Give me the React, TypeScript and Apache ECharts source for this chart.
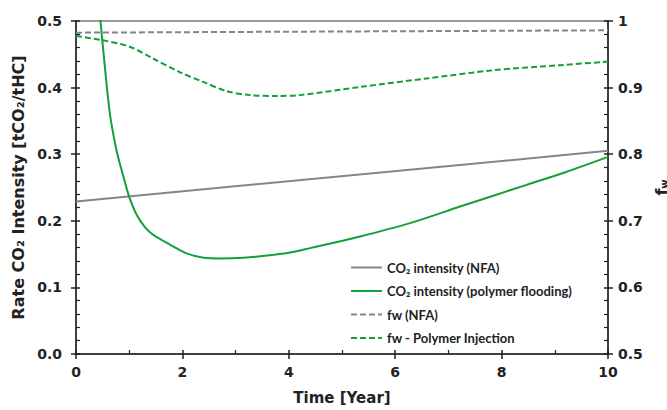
import React, { useEffect, useRef } from "react";
import * as echarts from "echarts";

const xTicks = [0, 2, 4, 6, 8, 10];
const co2NFA: [number, number][] = [[0, 0.229], [10, 0.305]];
const co2Polymer: [number, number][] = [
  [0.42, 0.53], [0.46, 0.5], [0.55, 0.425], [0.64, 0.359], [0.75, 0.31], [0.83, 0.284],
  [0.92, 0.258], [1.0, 0.236], [1.14, 0.209], [1.3, 0.19], [1.45, 0.179], [1.77, 0.164],
  [2.08, 0.151], [2.4, 0.1445], [2.7, 0.1435], [3.15, 0.1445], [3.5, 0.147], [4.0, 0.152],
  [4.4, 0.159], [5.34, 0.1765], [6.28, 0.1965], [7.22, 0.2214], [8.47, 0.254], [9.2, 0.273],
  [10, 0.296],
];
const fwNFA: [number, number][] = [[0, 0.9825], [10, 0.986]];
const fwPolymer: [number, number][] = [
  [0, 0.9775], [0.51, 0.971], [1.02, 0.961], [1.44, 0.944], [1.94, 0.9236], [2.39, 0.9086],
  [2.83, 0.8947], [3.27, 0.8887], [3.8, 0.8875], [4.21, 0.8887], [5.34, 0.901], [6.59, 0.9137],
  [7.84, 0.926], [9.1, 0.9337], [10, 0.939],
];
const seriesNames = [
  "CO₂ intensity (NFA)",
  "CO₂ intensity (polymer flooding)",
  "fw (NFA)",
  "fw - Polymer Injection",
];

const GREEN = "#11a03a";
const GRAY = "#858585";
const TXT = "#222";
const AX = "#222";
const FONT = "'DejaVu Sans', Verdana, sans-serif";

export default function App() {
  const ref = useRef<HTMLDivElement>(null);
  useEffect(() => {
    if (!ref.current) return;
    const chart = echarts.init(ref.current, undefined, { renderer: "svg" });
    const mainAxis = {
      axisLine: { show: true, onZero: false, lineStyle: { color: AX, width: 1.5 } },
      axisTick: { show: true, inside: false, length: 5, lineStyle: { color: AX, width: 1.5 } },
      minorTick: { show: false },
      splitLine: { show: false },
      axisLabel: { color: TXT, fontSize: 14, fontWeight: "bold", fontFamily: FONT },
    };
    const innerAxis = (split: number) => ({
      offset: 0,
      axisLine: { show: false, onZero: false },
      axisTick: { show: true, inside: true, length: 4, lineStyle: { color: AX, width: 1.5 } },
      minorTick: { show: true, splitNumber: split, length: 4, lineStyle: { color: AX, width: 1.2 } },
      splitLine: { show: false },
      axisLabel: { show: false },
    });
    chart.setOption({
      animation: false,
      backgroundColor: "#fff",
      grid: {
        left: 76, right: 59, top: 21, bottom: 56,
        show: true, borderColor: "#999", borderWidth: 2,
        outerBoundsMode: "none",
      },
      legend: {
        orient: "vertical",
        left: 345,
        top: 256,
        itemWidth: 31,
        itemHeight: 12,
        itemGap: 10.5,
        data: seriesNames,
        itemStyle: { opacity: 0 },
        textStyle: { color: TXT, fontSize: 13, fontWeight: "bold", fontFamily: "Lato, 'Open Sans', sans-serif" },
      },
      xAxis: [
        {
          type: "value",
          min: 0,
          max: 10,
          interval: 2,
          position: "bottom",
          ...mainAxis,
          axisLabel: { ...mainAxis.axisLabel, margin: 11, formatter: (v: number) => (xTicks.includes(v) ? String(v) : "") },
          name: "Time [Year]",
          nameLocation: "middle",
          nameGap: 36,
          nameTextStyle: { color: TXT, fontSize: 15, fontWeight: "bold", fontFamily: FONT },
        },
        { type: "value", min: 0, max: 10, interval: 2, position: "bottom", ...innerAxis(2) },
      ],
      yAxis: [
        {
          type: "value",
          min: 0,
          max: 0.5,
          interval: 0.1,
          position: "left",
          ...mainAxis,
          axisLabel: { ...mainAxis.axisLabel, margin: 14, formatter: (v: number) => v.toFixed(1) },
          name: "Rate CO₂ Intensity [tCO₂/tHC]",
          nameLocation: "middle",
          nameRotate: 90,
          nameGap: 50,
          nameTextStyle: { color: TXT, fontSize: 16, fontWeight: "bold", fontFamily: FONT },
        },
        {
          type: "value",
          min: 0.5,
          max: 1,
          interval: 0.1,
          position: "right",
          ...mainAxis,
          axisLabel: {
            ...mainAxis.axisLabel,
            margin: 10,
            formatter: (v: number) => (Math.abs(v - 1) < 1e-9 ? "1" : v.toFixed(1)),
          },
          name: "f{s|w}",
          nameLocation: "middle",
          nameRotate: 90,
          nameGap: 37,
          nameTextStyle: {
            color: TXT,
            fontSize: 16,
            fontWeight: "bold",
            fontFamily: FONT,
            lineHeight: 16,
            rich: { s: { fontSize: 10, fontWeight: "bold", fontFamily: FONT, color: TXT, verticalAlign: "bottom", lineHeight: 16 } },
          },
        },
        { type: "value", min: 0, max: 0.5, interval: 0.1, position: "left", ...innerAxis(5) },
        { type: "value", min: 0.5, max: 1, interval: 0.1, position: "right", ...innerAxis(5) },
      ],
      series: [
        {
          name: seriesNames[0],
          type: "line",
          yAxisIndex: 0,
          data: co2NFA,
          symbol: "none",
          lineStyle: { color: GRAY, width: 2 },
          itemStyle: { color: GRAY },
        },
        {
          name: seriesNames[1],
          type: "line",
          yAxisIndex: 0,
          data: co2Polymer,
          symbol: "none",
          smooth: 0.3,
          lineStyle: { color: GREEN, width: 2 },
          itemStyle: { color: GREEN },
        },
        {
          name: seriesNames[2],
          type: "line",
          yAxisIndex: 1,
          data: fwNFA,
          symbol: "none",
          lineStyle: { color: GRAY, width: 2, type: [6, 3] },
          itemStyle: { color: GRAY },
        },
        {
          name: seriesNames[3],
          type: "line",
          yAxisIndex: 1,
          data: fwPolymer,
          symbol: "none",
          smooth: 0.3,
          lineStyle: { color: GREEN, width: 2, type: [6, 3] },
          itemStyle: { color: GREEN },
        },
      ],
    });
    return () => chart.dispose();
  }, []);
  return <div ref={ref} style={{ width: 667, height: 410, position: "absolute", left: 0, top: 0 }} />;
}
